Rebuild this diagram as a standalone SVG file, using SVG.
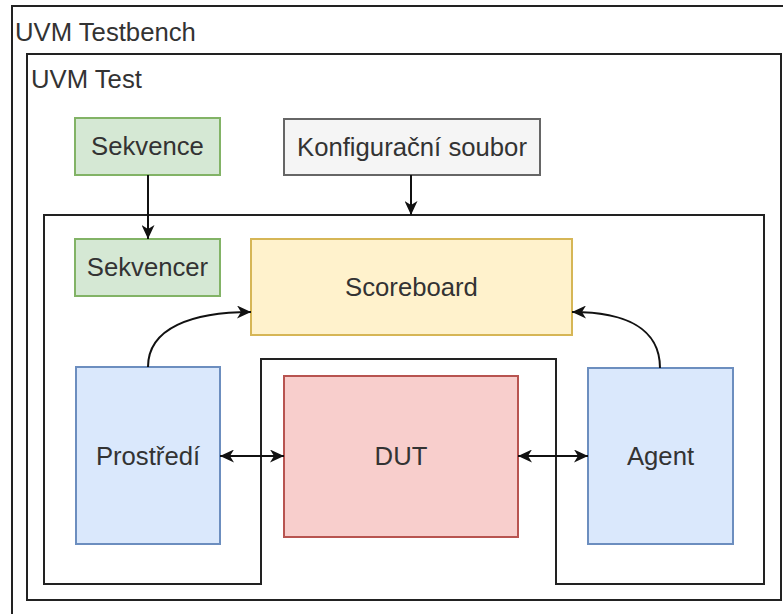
<svg xmlns="http://www.w3.org/2000/svg" width="783" height="614" viewBox="0 0 783 614">
<defs>
<style>
.frame{fill:#fff;stroke:#222;stroke-width:2}
.lbl{font-family:"Liberation Sans",Arial,sans-serif;font-size:25.7px;fill:#333}
.c{text-anchor:middle}
.green{fill:#d5e8d4;stroke:#82b366;stroke-width:2}
.gray{fill:#f5f5f5;stroke:#666;stroke-width:2}
.yellow{fill:#fff2cc;stroke:#d6b656;stroke-width:2}
.blue{fill:#dae8fc;stroke:#6c8ebf;stroke-width:2}
.red{fill:#f8cecc;stroke:#b85450;stroke-width:2}
.edge{fill:none;stroke:#111;stroke-width:2}
</style>
<marker id="arr" markerUnits="userSpaceOnUse" markerWidth="15" markerHeight="13" refX="14" refY="6.5" orient="auto-start-reverse" viewBox="0 0 15 13">
<path d="M0,0 L14,6.5 L0,13 L4,6.5 Z" fill="#111"/>
</marker>
</defs>
<g id="testbench">
<rect class="frame" x="12" y="6" width="790" height="630"/>
<text class="lbl" x="15" y="41">UVM Testbench</text>
</g>
<g id="test">
<rect class="frame" x="27" y="54" width="754" height="546"/>
<text class="lbl" x="31" y="88">UVM Test</text>
</g>
<g id="environment">
<path class="frame" d="M44,215 H764 V584 H556 V359 H261 V584 H44 Z"/>
</g>
<g id="sekvence">
<rect class="green" x="75" y="118" width="145" height="57"/>
<text class="lbl c" x="147.5" y="155">Sekvence</text>
</g>
<g id="konfigurace">
<rect class="gray" x="284" y="119" width="256" height="56"/>
<text class="lbl c" x="412" y="156">Konfigurační soubor</text>
</g>
<g id="sekvencer">
<rect class="green" x="75" y="239" width="145" height="57"/>
<text class="lbl c" x="147.5" y="276">Sekvencer</text>
</g>
<g id="scoreboard">
<rect class="yellow" x="251" y="239" width="321" height="96"/>
<text class="lbl c" x="411.5" y="296">Scoreboard</text>
</g>
<g id="prostredi">
<rect class="blue" x="76" y="367" width="144" height="177"/>
<text class="lbl c" x="148" y="465">Prostředí</text>
</g>
<g id="dut">
<rect class="red" x="284" y="376" width="234" height="161"/>
<text class="lbl c" x="401" y="465">DUT</text>
</g>
<g id="agent">
<rect class="blue" x="588" y="368" width="145" height="176"/>
<text class="lbl c" x="660.5" y="465">Agent</text>
</g>
<g id="connectors">
<path class="edge" d="M148,175 V239" marker-end="url(#arr)"/>
<path class="edge" d="M411,175 V215" marker-end="url(#arr)"/>
<path class="edge" d="M220,456 H284" marker-start="url(#arr)" marker-end="url(#arr)"/>
<path class="edge" d="M518,456 H588" marker-start="url(#arr)" marker-end="url(#arr)"/>
<path class="edge" d="M148,367 C148,328 192,312 251,312" marker-end="url(#arr)"/>
<path class="edge" d="M660,368 C660,328 625,312 572,312" marker-end="url(#arr)"/>
</g>
</svg>
